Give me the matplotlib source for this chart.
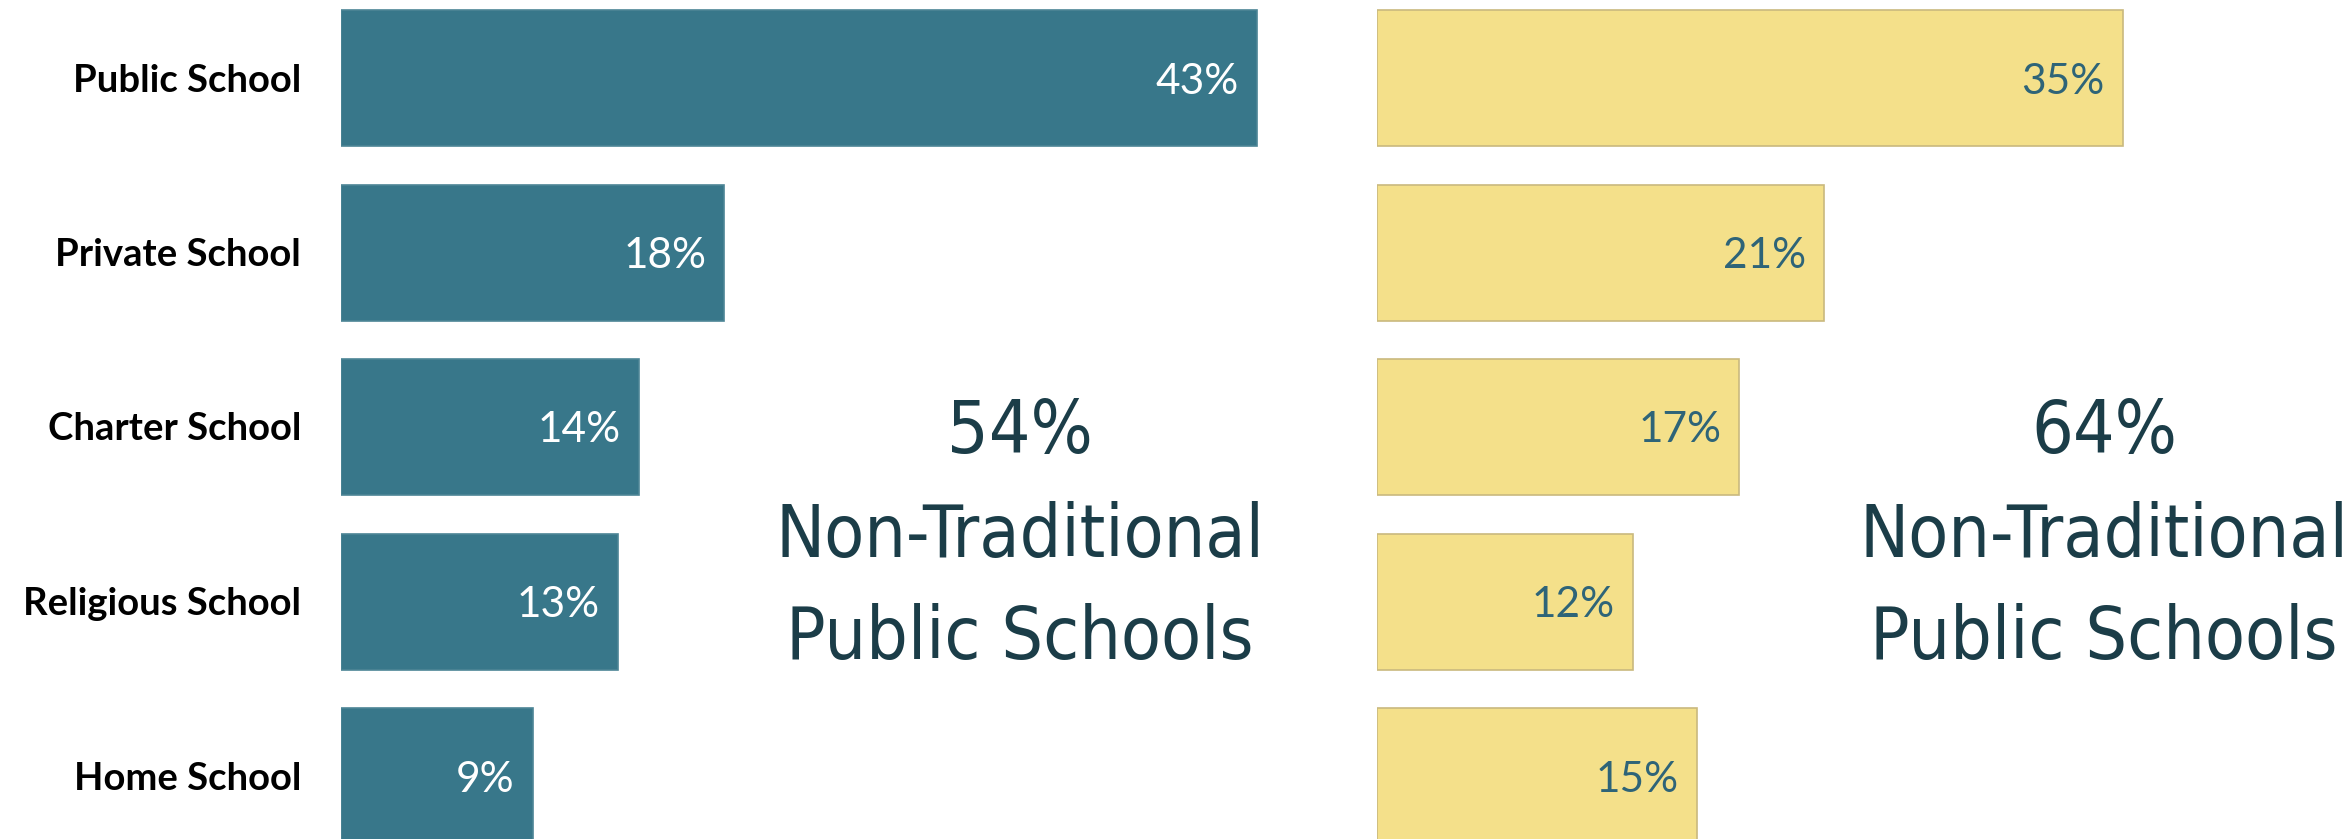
import matplotlib
matplotlib.use('Agg')
import matplotlib.pyplot as plt
from matplotlib import font_manager as fm
from matplotlib.textpath import TextPath
from matplotlib.font_manager import FontProperties

# ---- data ----
categories = ['Public School', 'Private School', 'Charter School', 'Religious School', 'Home School']
left_values = [43, 18, 14, 13, 9]
right_values = [35, 21, 17, 12, 15]
left_labels = ['43%', '18%', '14%', '13%', '9%']
right_labels = ['35%', '21%', '17%', '12%', '15%']
left_note = ['54%', 'Non-Traditional', 'Public Schools']
right_note = ['64%', 'Non-Traditional', 'Public Schools']

# ---- style ----
W, H = 2348, 839
DPI = 100
PX_PER_UNIT = 21.3
PITCH = 174.5
FIRST_CENTER = 78.0
LEFT_COLOR = '#38778A'
LEFT_EDGE = '#4D8596'
RIGHT_COLOR = '#F4E08A'
RIGHT_EDGE = '#C9B97E'
RIGHT_TEXT = '#2E6478'
NOTE_COLOR = '#1B3D48'

names = {f.name for f in fm.fontManager.ttflist}
base_family = 'Lato' if 'Lato' in names else 'DejaVu Sans'
plt.rcParams['font.family'] = [base_family, 'DejaVu Sans']

# pick a condensed / narrow face for the big hand-lettered note if one exists
narrow = []
for f in fm.fontManager.ttflist:
    st = str(f.stretch)
    if (st in ('condensed', 'semi-condensed', 'extra-condensed', 'ultra-condensed')
            or 'Narrow' in f.name or 'Condensed' in f.name) and f.style == 'normal':
        try:
            w = int(f.weight)
        except Exception:
            w = 400
        narrow.append((abs(w - 350), f.fname))
narrow.sort()
if narrow:
    note_prop = FontProperties(fname=narrow[0][1])
else:
    note_prop = FontProperties(family=base_family, weight='light')

fig = plt.figure(figsize=(W / DPI, H / DPI), dpi=DPI)
fig.patch.set_facecolor('white')

def make_axes(x0_px, x1_px):
    ax = fig.add_axes([x0_px / W, 0, (x1_px - x0_px) / W, 1])
    ax.set_xlim(0, (x1_px - x0_px) / PX_PER_UNIT)
    ax.set_ylim((H - FIRST_CENTER) / PITCH, -FIRST_CENTER / PITCH)
    ax.axis('off')
    return ax

axL = make_axes(341, 1345)
axR = make_axes(1377, W)

ypos = list(range(len(categories)))
bar_h = 136 / PITCH
axL.barh(ypos, left_values, height=bar_h, color=LEFT_COLOR, edgecolor=LEFT_EDGE, linewidth=1.2)
axR.barh(ypos, right_values, height=bar_h, color=RIGHT_COLOR, edgecolor=RIGHT_EDGE, linewidth=1.2)

px = 72 / DPI  # points per pixel
for i, (cat, v, lab) in enumerate(zip(categories, left_values, left_labels)):
    axL.annotate(cat, xy=(0, i), xytext=(-40 * px, -13.5 * px), textcoords='offset points',
                 ha='right', va='baseline', fontsize=27.5, fontweight='bold', color='black',
                 annotation_clip=False)
    axL.annotate(lab, xy=(v, i), xytext=(-18 * px, -15.5 * px), textcoords='offset points',
                 ha='right', va='baseline', fontsize=30.5, color='white')
for i, (v, lab) in enumerate(zip(right_values, right_labels)):
    axR.annotate(lab, xy=(v, i), xytext=(-18 * px, -15.5 * px), textcoords='offset points',
                 ha='right', va='baseline', fontsize=30.5, color=RIGHT_TEXT)

# big note text: long line ~476 px wide, capitals ~73 px tall (whichever is smaller)
wid = TextPath((0, 0), 'Non-Traditional', size=100, prop=note_prop).get_extents().width
cap = TextPath((0, 0), 'H', size=100, prop=note_prop).get_extents().height
size_px = min(100 * 476 / wid, 100 * 73 / cap)
note_fs = size_px * 72 / DPI
note_prop.set_size(note_fs)

baselines = [453, 557, 659]
for cx, lines in ((1020, left_note), (2104, right_note)):
    for line, b in zip(lines, baselines):
        fig.text(cx / W, 1 - b / H, line, ha='center', va='baseline',
                 fontproperties=note_prop, color=NOTE_COLOR)

fig.savefig('out.png', dpi=DPI, facecolor='white')
